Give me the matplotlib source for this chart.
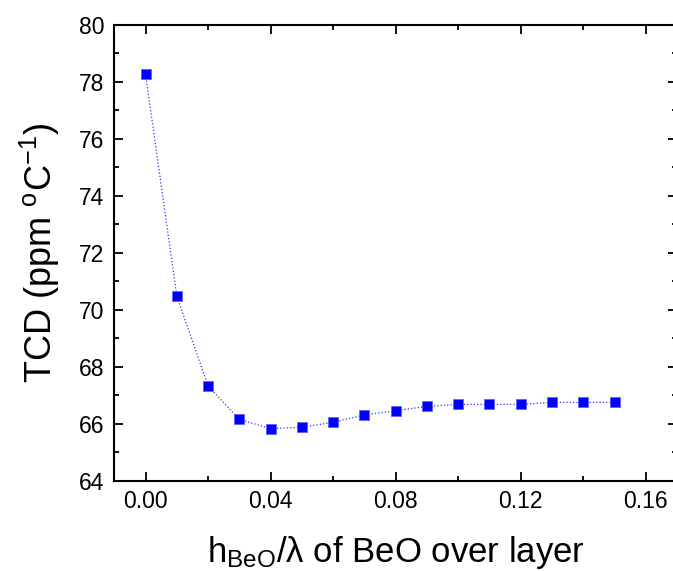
import matplotlib
matplotlib.use('Agg')
from matplotlib import pyplot as plt
from matplotlib.ticker import MultipleLocator

# TCD vs normalized BeO thickness
h_ratio = [0.00, 0.01, 0.02, 0.03, 0.04, 0.05, 0.06, 0.07,
           0.08, 0.09, 0.10, 0.11, 0.12, 0.13, 0.14, 0.15]
tcd = [78.28, 70.48, 67.33, 66.15, 65.83, 65.88, 66.05, 66.31,
       66.46, 66.61, 66.68, 66.68, 66.68, 66.75, 66.75, 66.75]

plt.rcParams['font.family'] = ['Liberation Sans', 'DejaVu Sans']
plt.rcParams['mathtext.fontset'] = 'custom'
plt.rcParams['mathtext.rm'] = 'Liberation Sans'
plt.rcParams['mathtext.it'] = 'Liberation Sans:italic'

fig = plt.figure(figsize=(6.73, 5.71), dpi=100)
ax = fig.add_axes([0.1698, 0.1581, 0.8362, 0.7981])

ax.plot(h_ratio, tcd, color='#3030ff', linestyle=':', linewidth=0.9,
        marker='s', markersize=7, markerfacecolor='blue',
        markeredgecolor='#6060ff', markeredgewidth=0.6)

ax.set_xlim(-0.01, 0.17)
ax.set_ylim(64, 80)
ax.xaxis.set_major_locator(MultipleLocator(0.04))
ax.xaxis.set_minor_locator(MultipleLocator(0.02))
ax.yaxis.set_major_locator(MultipleLocator(2))
ax.yaxis.set_minor_locator(MultipleLocator(1))
ax.xaxis.set_major_formatter(plt.FuncFormatter(lambda v, p: '%.2f' % v))

ax.tick_params(which='both', direction='in', top=True, right=True,
               labelsize=16.5, width=1.3)
ax.tick_params(which='major', length=6.5, pad=7)
ax.tick_params(which='minor', length=3.5)
for s in ax.spines.values():
    s.set_linewidth(1.5)

ax.set_xlabel(r'h$_{\mathrm{BeO}}$/λ of BeO over layer', fontsize=25, labelpad=15)
ax.set_ylabel(r'TCD (ppm $^{\mathrm{o}}$C$^{-1}$)', fontsize=26, labelpad=12)

fig.savefig('out.png', dpi=100)
